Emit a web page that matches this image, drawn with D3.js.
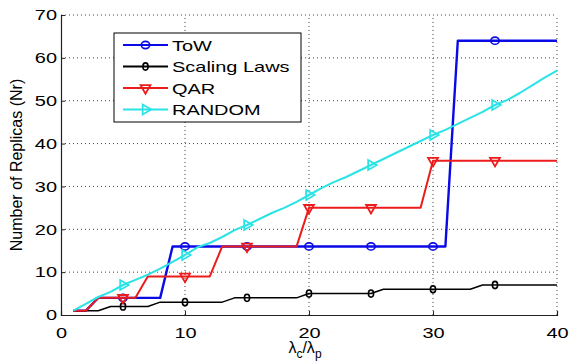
<!DOCTYPE html>
<html>
<head>
<meta charset="utf-8">
<script src="https://cdn.jsdelivr.net/npm/d3@7"></script>
<style>
  body { margin: 0; background: #fff; }
  text { font-family: "Liberation Sans", Arial, sans-serif; fill: #000; }
</style>
</head>
<body>
<div id="chart"></div>
<script>
// data
var xVals = [1, 2, 3, 4, 5, 6, 7, 8, 9, 10, 11, 12, 13, 14, 15, 16, 17, 18, 19, 20,
  21, 22, 23, 24, 25, 26, 27, 28, 29, 30, 31, 32, 33, 34, 35, 36, 37, 38, 39, 40]
var towVals = [1, 1, 4, 4, 4, 4, 4, 4, 16, 16, 16, 16, 16, 16, 16, 16, 16, 16, 16, 16,
  16, 16, 16, 16, 16, 16, 16, 16, 16, 16, 16, 64, 64, 64, 64, 64, 64, 64, 64, 64]
var scalingVals = [1, 1, 1, 2, 2, 2, 2, 3, 3, 3, 3, 3, 3, 4, 4, 4, 4, 4, 4, 5,
  5, 5, 5, 5, 5, 6, 6, 6, 6, 6, 6, 6, 6, 7, 7, 7, 7, 7, 7, 7]
var qarVals = [1, 1, 4, 4, 4, 4, 9, 9, 9, 9, 9, 9, 16, 16, 16, 16, 16, 16, 16, 25,
  25, 25, 25, 25, 25, 25, 25, 25, 25, 36, 36, 36, 36, 36, 36, 36, 36, 36, 36, 36]
var randomVals = [1, 2.6, 4.2, 5.4, 7, 8.2, 9.4, 10.8, 12.4, 14, 15.8, 16.8, 18.2, 19.8, 21, 22.4, 23.8, 25, 26.4, 28,
  29.6, 31, 32.2, 33.6, 35, 36.4, 37.8, 39.2, 40.6, 42, 43.2, 44.6, 46, 47.4, 49, 50.2, 51.8, 53.6, 55.4, 57]
var markerX = [5, 10, 15, 20, 25, 30, 35]
var seriesNames = ["ToW", "Scaling Laws", "QAR", "RANDOM"]
var xTicks = [0, 10, 20, 30, 40]
var yTicks = [0, 10, 20, 30, 40, 50, 60, 70]

var width = 569, height = 362
var margin = { top: 15, right: 12, bottom: 47, left: 61 }

var svg = d3.select("#chart")
  .append("svg")
  .attr("width", width)
  .attr("height", height)

var x = d3.scaleLinear()
  .domain([0, 40])
  .range([margin.left, width - margin.right])
var y = d3.scaleLinear()
  .domain([0, 70])
  .range([height - margin.bottom, margin.top])

// stretch horizontal text a bit, the original font is wide
function stretch(sel, k) {
  sel.each(function () {
    var w = this.getComputedTextLength()
    d3.select(this).attr("textLength", w * k).attr("lengthAdjust", "spacingAndGlyphs")
  })
}

// dotted grid
svg.append("g")
  .selectAll("line")
  .data(xTicks.slice(1))
  .enter()
  .append("line")
  .attr("x1", function (d) { return x(d) })
  .attr("x2", function (d) { return x(d) })
  .attr("y1", y(0))
  .attr("y2", y(70))
  .attr("stroke", "#444")
  .attr("stroke-width", 1)
  .attr("stroke-dasharray", "1,3")
svg.append("g")
  .selectAll("line")
  .data(yTicks.slice(1))
  .enter()
  .append("line")
  .attr("x1", x(0))
  .attr("x2", x(40))
  .attr("y1", function (d) { return y(d) })
  .attr("y2", function (d) { return y(d) })
  .attr("stroke", "#444")
  .attr("stroke-width", 1)
  .attr("stroke-dasharray", "1,3")

// axes
var xAxis = svg.append("g")
  .attr("transform", "translate(0," + y(0) + ")")
  .call(d3.axisBottom(x).tickValues(xTicks).tickSize(-4).tickPadding(9))
var yAxis = svg.append("g")
  .attr("transform", "translate(" + x(0) + ",0)")
  .call(d3.axisLeft(y).tickValues(yTicks).tickSize(-4).tickPadding(4))

xAxis.select(".domain").attr("stroke", "#222").attr("stroke-width", 1.2)
yAxis.select(".domain").attr("stroke", "#222").attr("stroke-width", 1.2)
svg.selectAll(".tick line").attr("stroke", "#222")
svg.selectAll(".tick text")
  .attr("font-size", 15)
  .attr("font-family", "Liberation Sans, Arial, sans-serif")
  .attr("fill", "#000")
xAxis.selectAll(".tick text").attr("dy", "0.9em")
stretch(svg.selectAll(".tick text"), 1.33)

// series
var series = [
  { name: seriesNames[0], vals: towVals, color: "#0a0ae6", width: 2.4, marker: "circle", r: 4 },
  { name: seriesNames[1], vals: scalingVals, color: "#000000", width: 1.5, marker: "dot", r: 3 },
  { name: seriesNames[2], vals: qarVals, color: "#ec1c1c", width: 2, marker: "down", r: 4 },
  { name: seriesNames[3], vals: randomVals, color: "#2ae3e6", width: 2, marker: "right", r: 4 }
]

var line = d3.line()
  .x(function (d) { return x(d[0]) })
  .y(function (d) { return y(d[1]) })

function drawMarker(g, s, cx, cy) {
  if (s.marker === "circle") {
    g.append("ellipse").attr("cx", cx).attr("cy", cy).attr("rx", 4.2).attr("ry", 3.6)
      .attr("fill", "none").attr("stroke", s.color).attr("stroke-width", 1.6)
  } else if (s.marker === "dot") {
    g.append("ellipse").attr("cx", cx).attr("cy", cy).attr("rx", 2.6).attr("ry", 3.6)
      .attr("fill", "none").attr("stroke", s.color).attr("stroke-width", 1.6)
  } else {
    var rot = s.marker === "down" ? 180 : 90
    g.append("path")
      .attr("d", d3.symbol().type(d3.symbolTriangle).size(42)())
      .attr("transform", "translate(" + cx + "," + cy + ") rotate(" + rot + ")")
      .attr("fill", "none").attr("stroke", s.color).attr("stroke-width", 1.8)
  }
}

series.forEach(function (s) {
  var pts = xVals.map(function (xv, i) { return [xv, s.vals[i]] })
  var g = svg.append("g")
  g.append("path")
    .datum(pts)
    .attr("d", line)
    .attr("fill", "none")
    .attr("stroke", s.color)
    .attr("stroke-width", s.width)
    .attr("stroke-linejoin", "round")
  markerX.forEach(function (mx) {
    var i = xVals.indexOf(mx)
    drawMarker(g, s, x(mx), y(s.vals[i]))
  })
})

// legend
var legend = svg.append("g")
legend.append("rect")
  .attr("x", 114).attr("y", 33)
  .attr("width", 187).attr("height", 89)
  .attr("fill", "#fff").attr("stroke", "#000").attr("stroke-width", 1)

series.forEach(function (s, i) {
  var ly = 45 + i * 21.5
  legend.append("line")
    .attr("x1", 123).attr("x2", 168)
    .attr("y1", ly).attr("y2", ly)
    .attr("stroke", s.color).attr("stroke-width", 1.8)
  drawMarker(legend, s, 145.5, ly)
  legend.append("text")
    .attr("x", 172).attr("y", ly + 5.5)
    .attr("font-size", 15)
    .text(s.name)
})
stretch(legend.selectAll("text"), 1.33)

// axis labels
svg.append("text")
  .attr("transform", "translate(22," + (y(35)) + ") rotate(-90)")
  .attr("text-anchor", "middle")
  .attr("font-size", 16)
  .text("Number of Replicas (Nr)")

var xl = svg.append("text")
  .attr("x", 305).attr("y", 353)
  .attr("text-anchor", "middle")
  .attr("font-size", 16)
xl.append("tspan").text("λ")
xl.append("tspan").attr("font-size", 12).attr("dy", 5).text("c")
xl.append("tspan").attr("dy", -5).text("/λ")
xl.append("tspan").attr("font-size", 12).attr("dy", 5).text("p")
</script>
</body>
</html>
